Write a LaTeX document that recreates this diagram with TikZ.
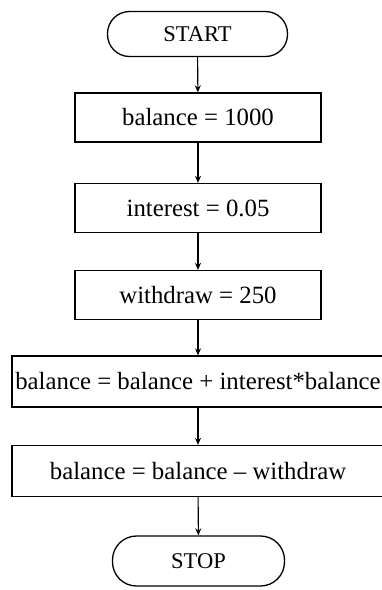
\documentclass[tikz,border=0pt]{standalone}
\usepackage{fontspec}
\setmainfont{Liberation Serif}
\usetikzlibrary{arrows.meta}
\begin{document}
\begin{tikzpicture}[x=1pt,y=-1pt,
  box/.style={draw, line width=1.3pt, minimum width=246pt, minimum height=49pt, inner sep=0pt, font=\fontsize{24.8}{28}\selectfont},
  wide/.style={box, minimum width=372pt, minimum height=51pt},
  term/.style={draw, line width=1.3pt, rounded corners=22pt, minimum width=180pt, minimum height=45pt, inner sep=0pt, font=\fontsize{22.5}{26}\selectfont},
  flow/.style={line width=1.1pt, -{Stealth[length=7pt,width=6pt]}}]
\useasboundingbox (0,0) rectangle (381,590);
\node[term] (start) at (197.5,34) {START};
\node[box] (b1) at (198,117.5) {balance = 1000};
\node[box] (b2) at (198,208) {interest = 0.05};
\node[box] (b3) at (198,295) {withdraw = 250};
\node[wide] (b4) at (198,381.5) {balance = balance + interest*balance};
\node[wide] (b5) at (198,471) {balance = balance -- withdraw};
\node[term, minimum width=172pt, minimum height=50pt, rounded corners=24pt] (stop) at (198.5,561) {STOP};
\draw[flow] (start) -- (b1);
\draw[flow] (b1) -- (b2);
\draw[flow] (b2) -- (b3);
\draw[flow] (b3) -- (b4);
\draw[flow] (b4) -- (b5);
\draw[flow] (b5) -- (stop);
\end{tikzpicture}
\end{document}
